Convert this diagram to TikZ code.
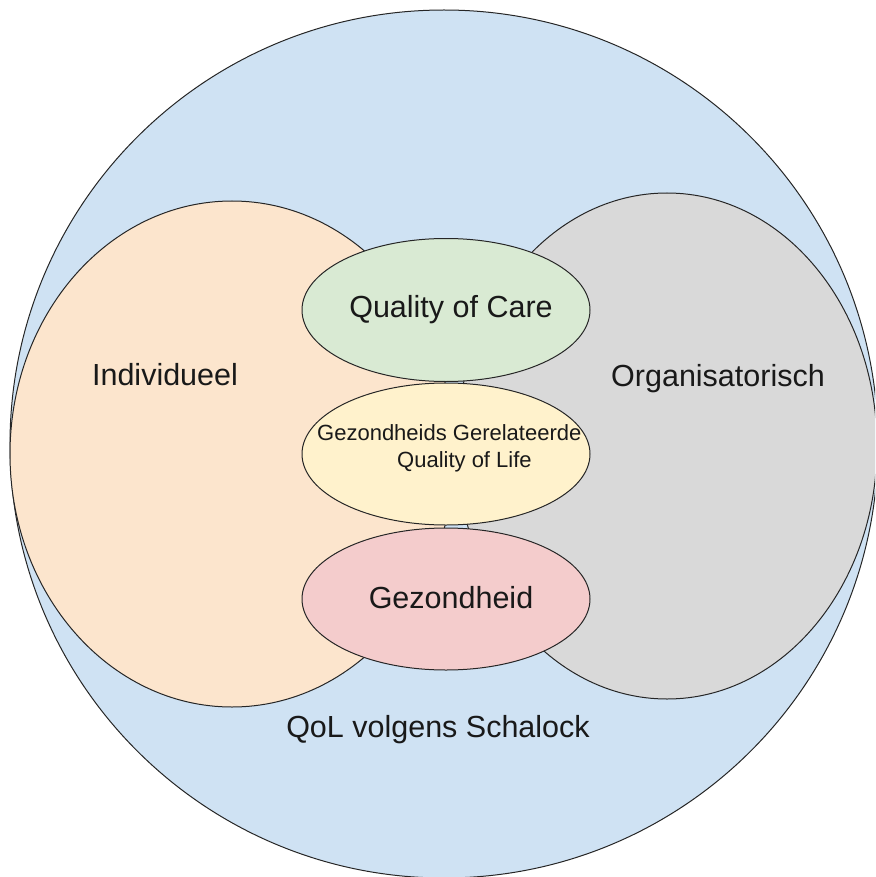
\documentclass[tikz,border=0pt]{standalone}
\usepackage{fontspec}
\setmainfont{Liberation Sans}
\usetikzlibrary{shapes.geometric}
\definecolor{qolblue}{HTML}{CFE2F3}
\definecolor{indpeach}{HTML}{FCE5CD}
\definecolor{orggray}{HTML}{D9D9D9}
\definecolor{qocgreen}{HTML}{D9EAD3}
\definecolor{hqolyellow}{HTML}{FFF2CC}
\definecolor{gezpink}{HTML}{F4CCCC}
\tikzset{
  blob/.style={ellipse, draw=black!85, line width=1pt, inner sep=0pt},
  bigtxt/.style={font=\fontsize{30.5}{36}\selectfont, inner sep=0pt, text=black!90, anchor=base},
  smalltxt/.style={font=\fontsize{22}{27}\selectfont, inner sep=0pt, text=black!90, align=left}
}
\begin{document}
\begin{tikzpicture}[x=1pt,y=-1pt]
\useasboundingbox (0,0) rectangle (875,877);
\clip (0,0) rectangle (875,877);
\node[blob, circle, fill=qolblue, minimum size=868pt] (qol) at (444,444) {};
\node[blob, fill=indpeach, minimum width=444pt, minimum height=506pt] (ind) at (232,454) {};
\node[blob, fill=orggray, minimum width=420pt, minimum height=506pt] (org) at (667,446) {};
\node[blob, fill=qocgreen, minimum width=288pt, minimum height=143pt] (qoc) at (446,310) {};
\node[blob, fill=hqolyellow, minimum width=288pt, minimum height=142pt] (hqol) at (446,454) {};
\node[blob, fill=gezpink, minimum width=288pt, minimum height=142pt] (gez) at (446,599) {};
\node[bigtxt] (tqoc) at (451,317) {Quality of Care};
\node[bigtxt] (tind) at (165,385) {Individueel};
\node[bigtxt] (torg) at (718,386) {Organisatorisch};
\node[bigtxt] (tgez) at (451,608) {Gezondheid};
\node[bigtxt] (tqol) at (438,737) {QoL volgens Schalock};
\node[smalltxt, anchor=north west] (thqol) at (317,424) {Gezondheids Gerelateerde\\\hspace*{80pt}Quality of Life};
\end{tikzpicture}
\end{document}
